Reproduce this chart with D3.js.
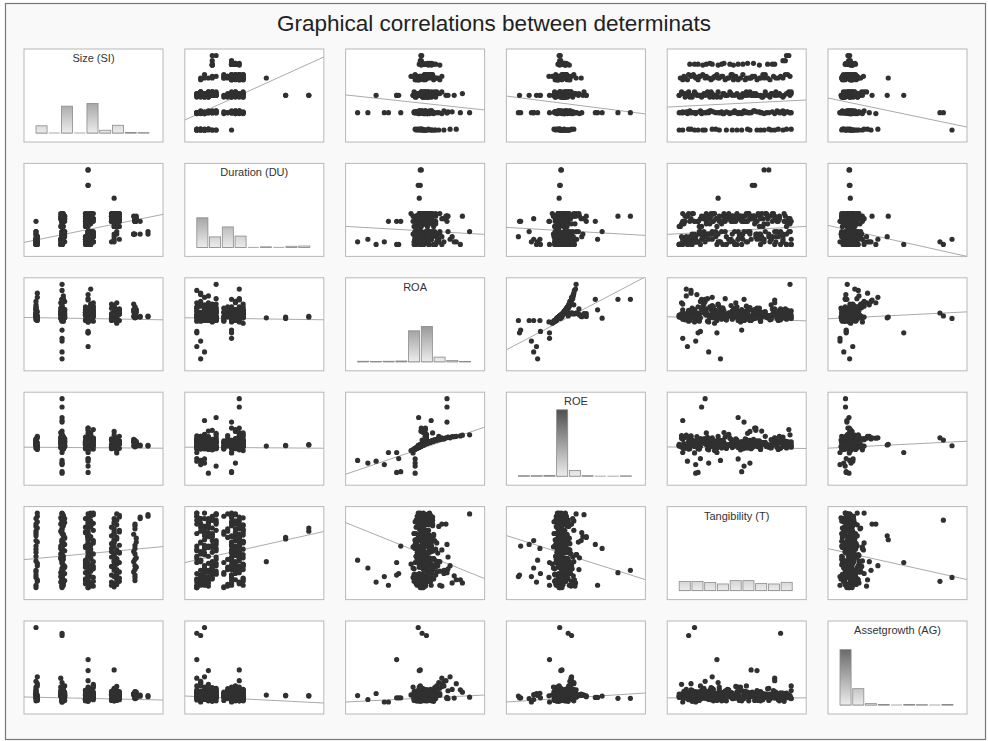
<!DOCTYPE html>
<html>
<head>
<meta charset="utf-8">
<script src="https://cdnjs.cloudflare.com/ajax/libs/d3/7.8.5/d3.min.js"></script>
<style>
body { margin: 0; background: #fff; }
svg { display: block; font-family: Arial, "Liberation Sans", sans-serif; }
</style>
</head>
<body>
<script>
var width = 988,
    height = 741;

var title = "Graphical correlations between determinats";
var labels = ["Size (SI)", "Duration (DU)", "ROA", "ROE", "Tangibility (T)", "Assetgrowth (AG)"];

// one value per firm, same order in every array
var SI = [1,1,1.05,1,1,1.05,1,1,1.05,1,1,1,1.05,1,
    2,2.05,1.95,2,2.1,2,2.05,1.95,2,2.1,2,2.05,2,1.95,2.1,2,2.05,2,1.95,2,2.1,2.05,2,2,1.95,2.05,2.1,2,2,2.05,
    3,3.1,2.9,3.2,3,3.1,3,2.9,3.2,3.1,3,3,3.1,2.9,3.2,3,3.1,3,3.2,2.9,3,3.1,3,3.2,3.1,2.9,3,3.2,3.1,3,2.9,3.1,3,3.2,3,3.1,2.9,3,
    4,4.1,3.9,4.2,4,4.1,4,3.9,4.2,4.1,4,4,4.1,3.9,4.2,4,4.1,4,4.2,3.9,4,4.1,4,4.2,4.1,3.9,4,4.1,
    4.8,4.8,4.75,4.8,4.85,4.8,4.75,4.8,4.8,4.85,4.8,4.8,5.0,5.0,5.3,5.3,
    1,2,2,3,3,4, 4,3,3,3,3, 2,2,3,2,2,3,2,3,2,3,2,3, 2,2,2,2,2,2,3,3,
    2,2.05,1.95,2.1,2,2.05,1.95,2,2.1,2.05,2,1.95,2.05,2,2.1,2,1.95,2.05,2,2.1,2.05,2,1.95,2,2.05,2.1,2,1.95,2.05,2,
    3,3.1,2.9,3.2,3,3.1,2.9,3,3.2,3.1,3,2.9,3.1,3,3.2,3,2.9,3.1,3,3.2,3.1,3,2.9,3,3.1,3.2,3,2.9,3.1,3,3.2,3,2.9,3.1,
    4,4.1,3.9,4.2,4,4.1,4,3.9,4.2,4.1,4,4,4.1,3.9,4.2,4,4.1,4,4.2,3.9,4,4.1,4,4.2,4.1,3.9,4,4.1,4,4.2,
    1,1.05,1,1.05,1,1,1.05,1,1.05,1,1,1.05,
    4.8,4.75,4.85,4.8,4.75,4.8,4.85,4.8];
var DU = [1,2,3,1,4,2,5,3,1,10,6,2,4,3,
    1,2,3,4,5,6,6,11,10,10,11,12,13,1,2,3,4,5,12,10,11,12,13,1,3,6,11,2,4,10,
    1,2,3,4,5,6,5,10,11,10,11,12,13,1,2,3,4,5,6,2,12,11,10,11,12,13,2,4,13,10,11,3,12,5,10,1,13,6,
    10,11,10,11,12,13,12,10,10,11,12,13,11,10,11,12,13,10,3,2,5,10,11,12,12,13,11,10,
    10,11,5,11,10,11,5,10,11,12,11,10,10,5,5,6,
    3,1,2,1,4,12, 19,24,24,30,30, 2,3,1,2,10,1,10,10,4,6,11,3, 12,12,10,3,6,6,5,10,
    1,2,3,4,5,6,8,9,12,13,2,1,4,3,6,5,11,10,13,12,3,1,2,5,4,6,12,13,8,9,
    8,9,12,13,1,2,3,4,5,6,11,10,13,12,2,1,4,3,6,5,12,13,8,9,3,2,5,4,1,6,10,12,9,13,
    8,9,12,13,2,6,12,13,8,9,12,13,10,11,12,13,9,8,13,12,4,5,3,10,11,12,13,8,9,12,
    1,2,3,4,5,1,2,3,4,6,2,1,
    10,5,11,10,12,5,11,10];
var ROA = [0.012,0.035,0.150,-0.015,0.060,0.180,0.020,0.095,0.045,0.005,0.075,0.120,-0.020,0.028,
    0.010,-0.025,0.040,0.085,0.000,0.055,-0.010,0.025,0.065,0.015,-0.020,0.045,0.005,0.110,0.030,
    -0.005,0.160,0.070,0.020,0.050,0.120,0.140,0.035,0.200,0.000,-0.015,0.060,0.095,0.008,0.030,
    0.005,0.030,-0.020,0.060,0.015,0.100,-0.030,0.040,0.010,0.070,0.025,-0.010,0.050,0.020,0.085,
    0.000,0.035,-0.025,0.045,0.015,0.130,0.055,0.005,0.030,0.210,0.020,0.170,0.110,0.065,-0.015,
    0.040,0.090,0.010,0.075,-0.005,0.050,0.025,0.140,
    0.010,0.040,-0.020,0.060,0.020,-0.040,0.080,0.000,0.030,0.110,0.015,0.050,-0.010,0.070,0.025,
    0.005,0.045,0.035,0.055,0.000,0.090,-0.030,0.012,0.065,0.020,0.100,-0.015,0.040,
    0.005,0.030,0.100,0.015,0.060,0.040,0.010,0.080,0.020,0.050,0.000,0.070,0.010,0.005,0.012,0.008,
    -0.005,0.014,0.035,-0.110,0.000,0.005, 0.000,0.005,-0.005,0.010,0.005,
    -0.300,-0.250,-0.210,-0.170,-0.150,-0.100,-0.090,-0.110,-0.020,-0.020,-0.020,-0.020,
    0.135,0.135,0.135,0.058,-0.003,0.245,0.020,0.030,
    0.015,-0.010,0.030,0.050,0.005,-0.020,0.040,0.020,0.060,0.000,0.025,0.070,-0.015,0.035,0.010,
    0.045,-0.005,0.020,0.055,0.030,0.008,-0.025,0.040,0.015,0.065,0.000,0.030,0.050,-0.010,0.022,
    0.010,0.030,-0.015,0.045,0.020,0.000,0.060,0.025,-0.025,0.040,0.015,0.050,0.005,-0.005,0.035,
    0.070,0.020,-0.020,0.030,0.010,0.055,0.000,0.040,0.015,-0.010,0.025,0.065,0.035,0.005,0.045,
    0.020,-0.030,0.080,0.012,
    0.005,0.030,-0.010,0.050,0.015,0.000,0.040,0.020,-0.020,0.060,0.010,0.035,0.025,-0.005,0.045,
    0.015,0.005,0.070,0.030,-0.015,0.020,0.040,0.000,0.055,0.010,0.030,0.080,-0.025,0.025,0.045,
    0.020,0.010,0.055,0.000,0.030,0.080,-0.010,0.040,0.015,0.065,0.025,0.005,
    0.020,0.045,0.005,0.030,0.060,0.015,0.040,0.025];
var ROE = [-0.03,0.02,0.16,-0.12,0.06,0.20,-0.02,0.11,0.03,-0.06,0.09,0.13,-0.15,0.00,
    -0.05,-0.14,0.02,0.12,-0.08,0.05,-0.11,-0.01,0.08,-0.04,-0.13,0.03,-0.07,0.15,0.00,
    -0.09,0.19,0.10,0.30,0.06,0.14,0.17,0.01,0.21,-0.10,-0.12,0.07,0.20,0.34,0.02,
    -0.06,0.01,-0.13,0.07,-0.03,0.13,-0.16,0.04,-0.05,0.09,-0.02,-0.10,0.05,0.00,0.11,
    -0.08,0.03,-0.15,0.04,-0.04,0.16,0.06,-0.07,0.38,0.23,-0.01,0.19,0.15,0.29,-0.11,
    0.02,0.12,0.42,0.10,-0.09,0.05,0.00,0.18,
    -0.05,0.03,-0.13,0.07,-0.02,-0.18,0.10,-0.08,0.00,0.13,-0.04,0.05,-0.10,0.08,-0.01,
    -0.06,0.04,0.02,0.06,-0.07,0.11,-0.24,0.33,0.07,-0.03,0.12,-0.11,0.03,
    -0.06,0.01,0.12,-0.04,0.06,0.03,-0.05,0.09,-0.02,0.04,-0.08,0.07,-0.03,-0.05,-0.04,-0.06,
    -0.05,0.10,0.16,-0.23,-0.03,-0.01, -0.06,-0.05,-0.04,-0.02,-0.03,
    -0.44,-0.51,-0.46,-0.55,-0.23,-0.39,-0.74,-0.76,-0.78,-0.59,-0.51,-0.40,
    1.20,0.98,0.58,0.62,0.70,0.24,0.36,0.42,
    -0.04,-0.11,0.18,0.05,-0.07,-0.13,0.03,-0.02,0.07,-0.08,0.00,0.09,-0.12,0.25,-0.05,
    0.04,-0.09,-0.01,0.06,0.12,-0.06,-0.14,0.03,-0.03,0.08,-0.07,0.20,0.05,-0.11,-0.01,
    -0.05,0.22,-0.12,0.04,-0.02,-0.07,0.06,0.00,-0.14,0.03,-0.04,0.05,-0.06,-0.09,0.15,
    0.08,-0.01,-0.13,0.28,-0.05,0.06,-0.08,0.03,-0.03,-0.11,0.10,0.07,0.18,-0.06,0.04,
    -0.02,-0.16,0.09,-0.04,
    -0.06,0.16,-0.10,0.05,-0.03,-0.07,0.03,-0.01,-0.12,0.06,-0.05,0.24,0.00,-0.08,0.04,
    -0.04,-0.06,0.08,0.20,-0.10,-0.01,0.03,-0.07,0.06,-0.05,0.13,0.10,-0.14,0.00,0.04,
    -0.01,-0.05,0.05,-0.08,0.01,0.10,-0.11,0.03,-0.04,0.08,0.00,-0.06,
    -0.02,0.04,-0.06,0.01,0.06,-0.04,0.03,-0.01];
var T = [0.05,0.18,0.30,0.42,0.55,0.12,0.68,0.80,0.93,0.36,0.62,0.24,0.86,0.74,
    0.03,0.10,0.16,0.22,0.28,0.33,0.38,0.45,0.50,0.57,0.63,0.70,0.76,0.83,0.90,
    0.97,0.08,0.13,0.40,0.47,0.20,0.26,0.60,0.12,0.52,0.88,0.66,0.35,0.72,0.94,
    0.02,0.06,0.11,0.15,0.19,0.23,0.27,0.31,0.35,0.39,0.43,0.47,0.51,0.55,0.59,
    0.63,0.67,0.71,0.75,0.79,0.83,0.87,0.91,0.95,0.08,0.13,0.17,0.04,0.25,0.58,
    0.34,0.46,0.66,0.29,0.85,0.97,0.72,0.41,
    0.07,0.12,0.18,0.22,0.27,0.32,0.36,0.41,0.46,0.50,0.54,0.59,0.64,0.68,0.73,
    0.77,0.82,0.86,0.10,0.48,0.30,0.15,0.62,0.92,0.39,0.05,0.71,0.25,
    0.11,0.25,0.35,0.45,0.60,0.83,0.70,0.18,0.52,0.40,0.77,0.30,0.92,0.90,0.93,0.95,
    0.15,0.88,0.10,0.34,0.68,0.63, 0.35,0.64,0.66,0.74,0.78,
    0.37,0.27,0.09,0.16,0.05,0.20,0.55,0.18,0.16,0.57,0.62,0.52,
    0.24,0.21,0.57,0.05,0.52,0.96,0.67,0.67,
    0.02,0.05,0.09,0.11,0.15,0.19,0.21,0.25,0.29,0.31,0.36,0.39,0.42,0.44,0.49,
    0.53,0.55,0.59,0.61,0.65,0.68,0.71,0.74,0.78,0.81,0.85,0.87,0.91,0.93,0.96,
    0.02,0.04,0.07,0.10,0.13,0.16,0.21,0.24,0.26,0.30,0.33,0.37,0.40,0.42,0.45,
    0.49,0.53,0.56,0.60,0.62,0.65,0.69,0.73,0.77,0.80,0.84,0.88,0.90,0.93,0.96,
    0.97,0.54,0.28,0.81,
    0.03,0.06,0.09,0.14,0.16,0.20,0.24,0.29,0.34,0.38,0.43,0.44,0.48,0.52,0.56,
    0.61,0.66,0.70,0.75,0.79,0.84,0.88,0.90,0.94,0.96,0.58,0.31,0.19,0.74,0.47,
    0.02,0.10,0.22,0.33,0.47,0.51,0.60,0.71,0.78,0.83,0.90,0.97,
    0.15,0.22,0.28,0.38,0.48,0.56,0.65,0.81];
var AG = [0.02,-0.10,0.85,0.10,-0.20,0.55,0.25,0.05,-0.05,0.40,0.15,0.65,-0.15,0.08,
    0.05,-0.12,0.20,0.35,-0.02,0.12,-0.20,0.08,-0.08,0.18,0.02,-0.15,0.10,0.79,-0.05,
    0.25,0.30,-0.22,0.06,0.14,0.45,-0.10,0.00,0.28,0.40,0.15,-0.18,0.60,0.04,-0.06,
    0.00,0.22,-0.14,0.10,-0.05,0.35,0.06,-0.20,0.15,0.02,0.30,-0.10,0.08,-0.16,0.45,
    0.12,-0.03,0.20,0.00,-0.12,0.68,0.09,-0.22,0.05,0.18,0.26,-0.08,0.52,0.03,0.11,
    -0.18,0.16,-0.02,0.38,0.07,-0.10,0.14,0.24,
    0.03,-0.12,0.10,0.20,-0.05,0.06,0.30,-0.18,0.12,0.43,-0.08,0.00,0.18,0.05,-0.15,
    0.08,0.25,-0.02,0.14,-0.10,0.35,0.02,0.10,-0.06,0.16,0.04,-0.20,0.22,
    0.05,-0.05,0.12,0.00,0.18,-0.08,0.10,-0.10,0.20,0.02,0.08,-0.02,0.00,0.05,0.03,-0.02,
    3.00,2.75,2.65,1.60,1.12,1.15, 0.05,0.02,0.04,0.03,0.01,
    0.03,-0.14,0.12,-0.25,-0.25,-0.07,-0.07,-0.07,0.01,-0.10,0.07,0.13,
    -0.09,-0.09,-0.05,-0.05,0.01,-0.04,0.06,0.02,
    0.02,-0.08,0.12,0.05,-0.15,0.20,0.00,-0.05,0.10,0.30,-0.12,0.07,0.15,-0.02,0.04,
    -0.18,0.25,0.09,-0.06,0.01,0.18,-0.10,0.06,0.35,-0.03,0.11,-0.20,0.03,0.14,-0.07,
    -0.05,0.10,0.02,-0.15,0.20,0.06,-0.10,0.14,0.00,0.28,-0.08,0.04,0.16,-0.20,0.09,
    0.01,-0.12,0.22,0.05,-0.03,0.12,-0.18,0.07,0.33,-0.06,0.18,0.00,-0.14,0.10,0.03,
    -0.09,0.40,0.26,-0.01,
    0.00,-0.10,0.08,0.15,-0.04,0.03,0.20,-0.15,0.10,-0.02,0.05,0.28,-0.08,0.12,0.01,
    -0.20,0.06,0.18,-0.05,0.09,0.02,-0.12,0.14,0.04,-0.03,0.22,0.07,-0.18,0.11,-0.06,
    0.10,-0.12,0.30,0.05,-0.05,0.20,0.00,0.15,-0.18,0.07,-0.08,0.45,
    0.00,0.10,-0.08,0.15,0.05,-0.02,0.08,0.12];

// histogram counts on the diagonal, 9 bins each
var histSI  = [26, 0, 97, 0, 107, 10, 28, 2, 1];
var histDU  = [107, 38, 74, 41, 0, 2, 0, 4, 5];
var histROA = [2, 1, 2, 3, 112, 128, 17, 5, 1];
var histROE = [2, 2, 3, 240, 21, 2, 0, 0, 1];
var histT   = [33, 33, 29, 24, 36, 36, 26, 24, 30];
var histAG  = [200, 59, 5, 2, 0, 2, 1, 0, 2];

// fitted line: value of the row variable at the min / max of the column variable
var trendStart = [
    [null, 1.89, 2.95, 2.87, 2.36, 2.70],
    [2.72, null, 7.74, 7.35, 5.16, 7.35],
    [0.001, -0.001, null, -0.188, 0.005, -0.003],
    [-0.091, -0.091, -0.699, null, -0.085, -0.099],
    [0.391, 0.373, 0.787, 0.635, null, 0.483],
    [-0.043, -0.014, -0.224, -0.216, -0.07, null]
];
var trendEnd = [
    [null, 4.82, 2.25, 2.04, 2.69, 1.35],
    [11.5, null, 5.23, 4.84, 7.67, -2.37],
    [-0.013, -0.013, null, 0.242, -0.019, 0.038],
    [-0.113, -0.113, 0.308, null, -0.119, 0.050],
    [0.525, 0.692, 0.212, 0.182, null, 0.165],
    [-0.149, -0.260, 0.022, 0.100, -0.07, null]
];

var columns = [SI, DU, ROA, ROE, T, AG];
var hists = [histSI, histDU, histROA, histROE, histT, histAG];
var n = SI.length;

var cellW = 139, cellH = 93,
    gridLeft = 24, gridTop = 49,
    stepX = 160.8, stepY = 114.4;

var svg = d3.select("body")
    .append("svg")
    .attr("width", width)
    .attr("height", height);

var defs = svg.append("defs");

var grad = defs.append("linearGradient")
    .attr("id", "barfill")
    .attr("gradientUnits", "userSpaceOnUse")
    .attr("x1", 0).attr("y1", 8)
    .attr("x2", 0).attr("y2", cellH - 9);
grad.append("stop").attr("offset", "0%").attr("stop-color", "#3a3a3a");
grad.append("stop").attr("offset", "100%").attr("stop-color", "#ececec");

// outer frame
svg.append("rect")
    .attr("x", 5.5).attr("y", 3.5)
    .attr("width", 980).attr("height", 736)
    .attr("fill", "#f9f9f9")
    .attr("stroke", "#777")
    .attr("stroke-width", 1.2);

svg.append("text")
    .attr("x", width / 2)
    .attr("y", 31)
    .attr("text-anchor", "middle")
    .attr("font-size", 22.5)
    .attr("fill", "#222")
    .text(title);

// scales per variable, x in columns and y in rows
var xScales = columns.map(function (v) {
    return d3.scaleLinear().domain(d3.extent(v)).range([12, cellW - 15]);
});
var yScales = columns.map(function (v) {
    return d3.scaleLinear().domain(d3.extent(v)).range([cellH - 12, 6.5]);
});

var rows = d3.range(6);

rows.forEach(function (i) {
    rows.forEach(function (j) {
        var g = svg.append("g")
            .attr("transform", "translate(" + (gridLeft + j * stepX) + "," + (gridTop + i * stepY) + ")");

        g.append("rect")
            .attr("width", cellW)
            .attr("height", cellH)
            .attr("fill", "#fff")
            .attr("stroke", "#b8b8b8")
            .attr("stroke-width", 1);

        if (i === j) {
            drawHist(g, i);
        } else {
            drawScatter(g, i, j);
        }
    });
});

function drawHist(g, k) {
    var counts = hists[k];
    var bx = d3.scaleBand()
        .domain(d3.range(counts.length))
        .range([12, cellW - 14])
        .paddingInner(0.13);
    var hy = d3.scaleLinear().domain([0, n]).range([0, 75]);
    var base = cellH - 9;

    g.append("text")
        .attr("x", cellW / 2)
        .attr("y", 13)
        .attr("text-anchor", "middle")
        .attr("font-size", 11)
        .attr("fill", "#333")
        .text(labels[k]);

    g.selectAll("line.base")
        .data(counts)
        .enter().append("line")
        .attr("class", "base")
        .attr("x1", function (d, b) { return bx(b); })
        .attr("x2", function (d, b) { return bx(b) + bx.bandwidth(); })
        .attr("y1", base)
        .attr("y2", base)
        .attr("stroke", "#a8a8a8")
        .attr("stroke-width", 1);

    g.selectAll("rect.bar")
        .data(counts)
        .enter().append("rect")
        .attr("class", "bar")
        .attr("x", function (d, b) { return bx(b); })
        .attr("y", function (d) { return base - hy(d); })
        .attr("width", bx.bandwidth())
        .attr("height", function (d) { return hy(d); })
        .attr("fill", "url(#barfill)")
        .attr("stroke", "#8c8c8c")
        .attr("stroke-width", 0.8);
}

function drawScatter(g, i, j) {
    var x = xScales[j],
        y = yScales[i];

    var clipId = "clip" + i + "-" + j;
    defs.append("clipPath")
        .attr("id", clipId)
        .append("rect")
        .attr("width", cellW)
        .attr("height", cellH);

    // trend line
    var fit = d3.scaleLinear()
        .domain(x.domain())
        .range([trendStart[i][j], trendEnd[i][j]]);
    var x0 = x.invert(0),
        x1 = x.invert(cellW);
    g.append("line")
        .attr("clip-path", "url(#" + clipId + ")")
        .attr("x1", 0)
        .attr("y1", y(fit(x0)))
        .attr("x2", cellW)
        .attr("y2", y(fit(x1)))
        .attr("stroke", "#a0a0a0")
        .attr("stroke-width", 0.9);

    g.selectAll("circle")
        .data(d3.range(n))
        .enter().append("circle")
        .attr("cx", function (d) { return x(columns[j][d]); })
        .attr("cy", function (d) { return y(columns[i][d]); })
        .attr("r", 2.6)
        .attr("fill", "#303030");
}
</script>
</body>
</html>
